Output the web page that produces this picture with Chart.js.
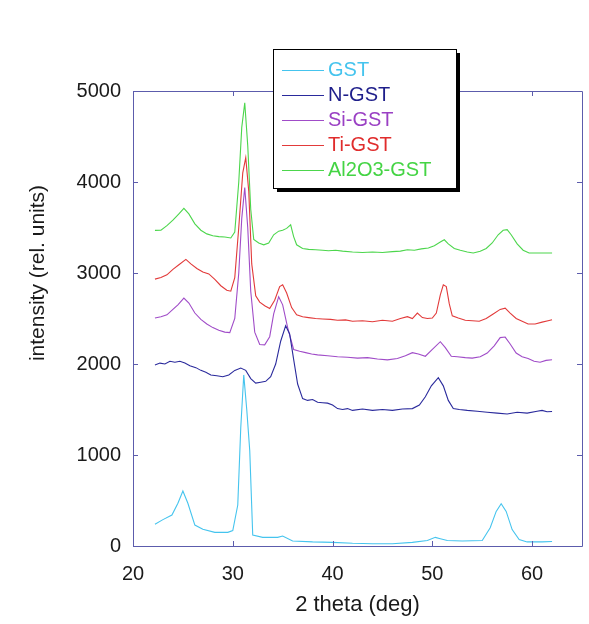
<!DOCTYPE html>
<html>
<head>
<meta charset="utf-8">
<script src="https://cdn.jsdelivr.net/npm/chart.js@4/dist/chart.umd.min.js"></script>
<style>
  html, body { margin: 0; padding: 0; background: #ffffff; }
  #wrap { width: 589px; height: 624px; }
</style>
</head>
<body>
<div id="wrap"><canvas id="c" width="589" height="624"></canvas></div>
<script>
// ---- data ----
const seriesNames = ['GST', 'N-GST', 'Si-GST', 'Ti-GST', 'Al2O3-GST'];
const xTitle = '2 theta (deg)';
const yTitle = 'intensity (rel. units)';

const gstX = [22.2, 23.0, 23.9, 24.5, 25.0, 25.5, 26.2, 27.0, 28.2, 29.5, 30.0, 30.5, 30.8, 31.1, 31.4, 31.7, 32.0, 33.0, 34.5, 35.0, 36.0, 38.0, 40.0, 42.0, 44.0, 46.0, 48.0, 49.5, 50.3, 50.8, 51.5, 53.0, 55.0, 55.8, 56.4, 56.9, 57.4, 58.0, 58.7, 59.5, 61.0, 62.0];
const gstY = [240, 290, 340, 470, 605, 470, 230, 185, 150, 150, 170, 450, 1300, 1880, 1500, 1050, 120, 95, 95, 110, 55, 45, 40, 30, 25, 25, 40, 60, 95, 80, 60, 55, 60, 200, 380, 465, 380, 180, 70, 45, 45, 50];

const ngstX = [22.2, 22.7, 23.2, 23.7, 24.2, 24.7, 25.2, 25.7, 26.3, 26.8, 27.3, 27.8, 28.4, 29.0, 29.6, 30.2, 30.8, 31.3, 31.8, 32.3, 32.8, 33.3, 33.8, 34.3, 34.8, 35.3, 35.7, 36.1, 36.5, 37.0, 37.5, 38.0, 38.5, 39.0, 39.5, 40.0, 40.5, 41.0, 41.5, 42.0, 43.0, 44.0, 45.0, 46.0, 47.0, 48.0, 48.7, 49.3, 49.9, 50.6, 51.1, 51.6, 52.1, 52.7, 53.5, 54.5, 55.5, 56.5, 57.5, 58.5, 59.5, 60.5, 61.0, 61.5, 62.0];
const ngstY = [1990, 2010, 2000, 2030, 2020, 2030, 2010, 1980, 1960, 1930, 1910, 1880, 1870, 1860, 1880, 1930, 1955, 1930, 1840, 1790, 1800, 1810, 1860, 2000, 2250, 2420, 2330, 2050, 1780, 1620, 1600, 1610, 1580, 1575, 1570, 1550, 1510, 1500, 1510, 1490, 1505, 1490, 1500, 1490, 1505, 1510, 1550, 1640, 1760, 1850, 1760, 1600, 1510, 1500, 1490, 1480, 1470, 1460, 1450, 1470, 1460, 1480, 1490, 1475, 1478];

const sigstX = [22.2, 22.8, 23.4, 24.0, 24.5, 25.1, 25.6, 26.2, 26.8, 27.4, 28.0, 28.6, 29.2, 29.7, 30.2, 30.6, 30.9, 31.2, 31.5, 31.8, 32.2, 32.7, 33.2, 33.7, 34.1, 34.6, 35.0, 35.5, 36.1, 36.7, 37.3, 37.9, 38.5, 39.5, 40.5, 41.5, 42.5, 43.5, 44.5, 45.5, 46.5, 47.3, 48.0, 48.6, 49.3, 49.9, 50.8, 51.3, 51.9, 52.5, 53.3, 54.0, 54.8, 55.5, 56.2, 56.8, 57.3, 57.8, 58.4, 59.0, 59.6, 60.2, 60.8, 61.4, 62.0];
const sigstY = [2505, 2520, 2540, 2600, 2650, 2725, 2670, 2560, 2490, 2440, 2400, 2370, 2350, 2345, 2500, 3000, 3600, 3940, 3500, 2800, 2350, 2215, 2210, 2300, 2550, 2740, 2650, 2400, 2160, 2140, 2125, 2110, 2100, 2090, 2080, 2075, 2065, 2070, 2055, 2045, 2060, 2090, 2125, 2110, 2085, 2150, 2245, 2180, 2085, 2080, 2070, 2065, 2080, 2120, 2200, 2290, 2296, 2220, 2120, 2080, 2060, 2030, 2020, 2040, 2046];

const tigstX = [22.2, 22.8, 23.4, 24.0, 24.6, 25.3, 25.8, 26.4, 27.0, 27.6, 28.2, 28.8, 29.4, 29.8, 30.2, 30.6, 31.0, 31.3, 31.6, 31.9, 32.3, 32.7, 33.2, 33.7, 34.2, 34.7, 35.0, 35.4, 35.9, 36.4, 37.0, 37.6, 38.3, 39.0, 39.8, 40.5, 41.3, 42.0, 43.0, 44.0, 45.0, 46.0, 46.8, 47.5, 48.0, 48.5, 49.0, 49.5, 50.0, 50.4, 50.8, 51.1, 51.4, 51.7, 52.0, 52.6, 53.3, 54.0, 54.7, 55.4, 56.1, 56.8, 57.3, 57.8, 58.4, 59.0, 59.6, 60.3, 61.0, 61.6, 62.0];
const tigstY = [2933, 2950, 2980, 3040, 3090, 3150, 3100, 3050, 3010, 2990, 2930, 2860, 2810, 2800, 2950, 3500, 4100, 4268, 3900, 3100, 2750, 2680, 2640, 2610, 2700, 2850, 2870, 2780, 2620, 2540, 2520, 2510, 2500, 2495, 2490, 2480, 2485, 2470, 2475, 2465, 2480, 2470, 2500, 2520, 2500, 2560, 2510, 2500, 2505, 2560, 2760, 2870, 2850, 2660, 2530, 2505, 2480, 2475, 2470, 2500, 2550, 2600, 2614, 2560, 2500, 2470, 2440, 2440, 2460, 2475, 2486];

const algstX = [22.2, 22.8, 23.4, 24.0, 24.6, 25.1, 25.6, 26.2, 26.8, 27.4, 28.0, 28.6, 29.2, 29.8, 30.2, 30.6, 30.9, 31.2, 31.5, 31.8, 32.1, 32.6, 33.1, 33.6, 34.1, 34.6, 35.0, 35.4, 35.8, 36.1, 36.4, 37.0, 37.6, 38.3, 39.0, 39.6, 40.3, 41.0, 42.0, 43.0, 44.0, 45.0, 46.0, 46.8, 47.5, 48.2, 48.9, 49.6, 50.2, 50.8, 51.2, 51.6, 52.2, 52.8, 53.5, 54.1, 54.8, 55.4, 56.0, 56.6, 57.1, 57.5, 57.9, 58.5, 59.1, 59.7, 60.5, 61.3, 62.0];
const algstY = [3468, 3470, 3520, 3580, 3650, 3710, 3650, 3540, 3470, 3430, 3410, 3400, 3395, 3385, 3450, 4000, 4600, 4870, 4400, 3700, 3370, 3330, 3310, 3330, 3420, 3460, 3470, 3490, 3530, 3400, 3310, 3270, 3260, 3255, 3250, 3245, 3250, 3240, 3230, 3225, 3230, 3225, 3235, 3240, 3255, 3250, 3265, 3275, 3300, 3340, 3365, 3320, 3270, 3250, 3230, 3220, 3240, 3270, 3330, 3420, 3470, 3476, 3420, 3320, 3250, 3220, 3220, 3220, 3220];

const xTicks = [20, 30, 40, 50, 60];
const yTicks = [0, 1000, 2000, 3000, 4000, 5000];

// ---- styles ----
const colors = ['#45c4ee', '#2a2a9c', '#a04cc8', '#e23a3a', '#4cd64c'];
const textColors = ['#45c4ee', '#1e1e8a', '#9a40c4', '#e02c2c', '#44d444'];
const axisColor = '#5c5cac';
const FONT = "'Liberation Sans', Arial, sans-serif";

const xs = [gstX, ngstX, sigstX, tigstX, algstX];
const ys = [gstY, ngstY, sigstY, tigstY, algstY];

const datasets = seriesNames.map((name, i) => ({
  label: name,
  data: xs[i].map((x, k) => ({ x: x, y: ys[i][k] })),
  borderColor: colors[i],
  backgroundColor: colors[i],
  borderWidth: 1.1,
  pointRadius: 0,
  tension: 0,
  fill: false
}));

const framePlugin = {
  id: 'frame',
  afterDatasetsDraw(chart) {
    const { ctx, chartArea: a, scales } = chart;
    const xS = scales.x, yS = scales.y;
    ctx.save();
    ctx.strokeStyle = axisColor;
    ctx.lineWidth = 1;
    ctx.beginPath();
    ctx.rect(Math.round(a.left) + 0.5, Math.round(a.top) + 0.5, Math.round(a.right - a.left), Math.round(a.bottom - a.top));
    const tl = 5;
    xTicks.forEach(v => {
      const px = Math.round(xS.getPixelForValue(v)) + 0.5;
      ctx.moveTo(px, a.bottom); ctx.lineTo(px, a.bottom - tl);
      ctx.moveTo(px, a.top); ctx.lineTo(px, a.top + tl);
    });
    yTicks.forEach(v => {
      const py = Math.round(yS.getPixelForValue(v)) + 0.5;
      ctx.moveTo(a.left, py); ctx.lineTo(a.left + tl, py);
      ctx.moveTo(a.right, py); ctx.lineTo(a.right - tl, py);
    });
    ctx.stroke();
    // y axis title (placed as in the reference, slightly above the axis centre)
    ctx.fillStyle = '#1a1a1a';
    ctx.font = '21px ' + FONT;
    ctx.textAlign = 'center';
    ctx.textBaseline = 'middle';
    ctx.translate(38, 273);
    ctx.rotate(-Math.PI / 2);
    ctx.fillText(yTitle, 0, 0);
    ctx.restore();
  }
};

const boxLegendPlugin = {
  id: 'boxLegend',
  afterDraw(chart) {
    const { ctx } = chart;
    const bx = 273, by = 49, bw = 183, bh = 139;
    ctx.save();
    ctx.fillStyle = '#000000';
    ctx.fillRect(bx + 4, by + 4, bw, bh);
    ctx.fillStyle = '#ffffff';
    ctx.fillRect(bx, by, bw, bh);
    ctx.strokeStyle = '#000000';
    ctx.lineWidth = 1;
    ctx.strokeRect(bx + 0.5, by + 0.5, bw, bh);
    ctx.font = '20px ' + FONT;
    ctx.textBaseline = 'middle';
    ctx.textAlign = 'left';
    chart.data.datasets.forEach((ds, i) => {
      const cy = by + 21 + i * 25;
      ctx.strokeStyle = ds.borderColor;
      ctx.beginPath();
      ctx.moveTo(bx + 9, Math.round(cy) + 0.5);
      ctx.lineTo(bx + 51, Math.round(cy) + 0.5);
      ctx.stroke();
      ctx.fillStyle = textColors[i];
      ctx.fillText(ds.label, bx + 55, cy);
    });
    ctx.restore();
  }
};

new Chart(document.getElementById('c'), {
  type: 'line',
  data: { datasets: datasets },
  options: {
    responsive: false,
    animation: false,
    events: [],
    layout: { padding: { top: 91, right: 7, bottom: 0, left: 0 } },
    plugins: {
      legend: { display: false },
      tooltip: { enabled: false }
    },
    scales: {
      x: {
        type: 'linear',
        min: 20,
        max: 65,
        afterBuildTicks: s => { s.ticks = xTicks.map(v => ({ value: v })); },
        afterFit: s => { s.height = 78; },
        grid: { display: false, drawTicks: false },
        border: { display: false },
        ticks: {
          color: '#1a1a1a',
          padding: 16,
          font: { family: FONT, size: 20 },
          maxRotation: 0,
          autoSkip: false,
          callback: v => String(v)
        },
        title: {
          display: true,
          text: xTitle,
          color: '#1a1a1a',
          font: { family: FONT, size: 22 },
          padding: { top: 0, bottom: 6 }
        }
      },
      y: {
        type: 'linear',
        min: 0,
        max: 5000,
        afterBuildTicks: s => { s.ticks = yTicks.map(v => ({ value: v })); },
        afterFit: s => { s.width = 133; },
        grid: { display: false, drawTicks: false },
        border: { display: false },
        ticks: {
          color: '#1a1a1a',
          padding: 12,
          font: { family: FONT, size: 20 },
          autoSkip: false,
          callback: v => String(v)
        },
        title: { display: false, text: yTitle }
      }
    }
  },
  plugins: [framePlugin, boxLegendPlugin]
});
</script>
</body>
</html>
